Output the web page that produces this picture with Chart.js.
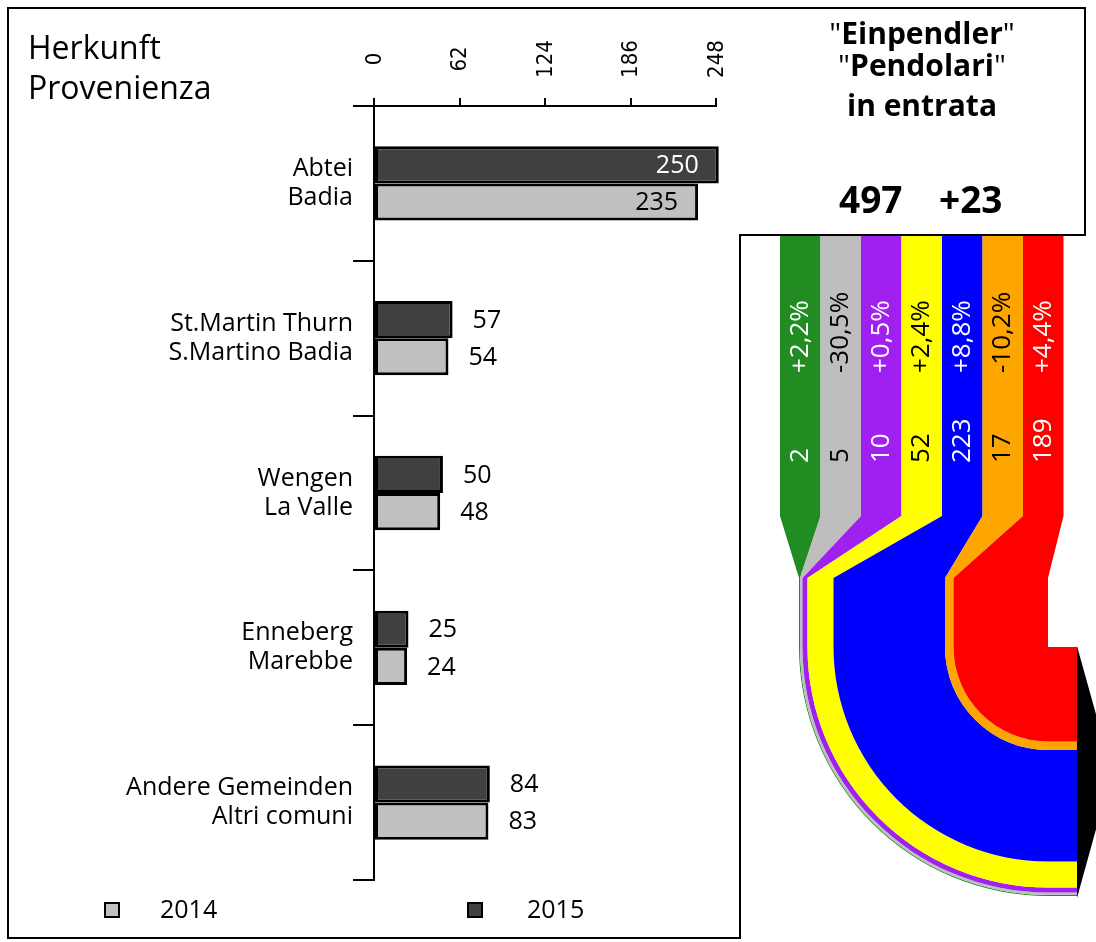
<!DOCTYPE html>
<html>
<head>
<meta charset="utf-8">
<script src="https://cdn.jsdelivr.net/npm/chart.js@4.4.1/dist/chart.umd.min.js"></script>
<style>
  html,body{margin:0;padding:0;background:#fff;}
  body{width:1096px;height:942px;position:relative;overflow:hidden;font-family:"Open Sans",sans-serif;color:#000;}
  canvas{position:absolute;}
  #main{left:0;top:0;}
  #flow{left:740px;top:235px;}
  .txt{position:absolute;white-space:nowrap;line-height:1;}
  .hdr{position:absolute;left:760px;width:324px;text-align:center;line-height:1;white-space:nowrap;font-size:30px;}
  .hdr b{font-weight:700;}
  .box{position:absolute;width:12px;height:12px;border:2px solid #000;}
</style>
</head>
<body>
<canvas id="main" width="1096" height="942"></canvas>
<canvas id="flow" width="356" height="707"></canvas>

<div class="txt" style="left:28px;top:31px;font-size:32px;">Herkunft</div>
<div class="txt" style="left:28px;top:71px;font-size:32px;">Provenienza</div>

<div class="hdr" style="top:18px;">"<b>Einpendler</b>"</div>
<div class="hdr" style="top:50px;">"<b>Pendolari</b>"</div>
<div class="hdr" style="top:90px;"><b>in entrata</b></div>
<div class="txt" id="total" style="left:839px;top:180px;font-size:37px;font-weight:700;"></div>
<div class="txt" id="totalChange" style="left:939px;top:180px;font-size:37px;font-weight:700;"></div>

<div class="box" style="left:104px;top:902px;background:#c0c0c0;"></div>
<div class="txt" id="leg0" style="left:160px;top:896px;font-size:25px;"></div>
<div class="box" style="left:467px;top:902px;background:#404040;"></div>
<div class="txt" id="leg1" style="left:527px;top:896px;font-size:25px;"></div>

<script>
// Herkunft der Einpendler / provenienza pendolari in entrata
const categories = [
  ["Abtei","Badia"],
  ["St.Martin Thurn","S.Martino Badia"],
  ["Wengen","La Valle"],
  ["Enneberg","Marebbe"],
  ["Andere Gemeinden","Altri comuni"]
];
const years = ["2014","2015"];
const values2015 = [250,57,50,25,84];
const values2014 = [235,54,48,24,83];
const axisTicks = [0,62,124,186,248];

// rechte Seite: Stroeme nach Sektor
const flowValues  = [2,5,10,52,223,17,189];
const flowChanges = ["+2,2%","-30,5%","+0,5%","+2,4%","+8,8%","-10,2%","+4,4%"];
const flowColors  = ["#228b22","#bebebe","#a020f0","#ffff00","#0000ff","#ffa500","#ff0000"];
const flowText    = ["#fff","#000","#fff","#000","#fff","#000","#fff"];
const totalValue  = 497;
const totalDiff   = "+23";

document.getElementById("total").textContent = totalValue;
document.getElementById("totalChange").textContent = totalDiff;
document.getElementById("leg0").textContent = years[0];
document.getElementById("leg1").textContent = years[1];

const LABEL_FONT = {family:"Open Sans", size:25, lineHeight:1.16};

// Rahmen um beide Teile
const framePlugin = {
  id:"frame",
  afterDraw(chart){
    const ctx = chart.ctx;
    ctx.save();
    ctx.strokeStyle = "#000";
    ctx.lineWidth = 2;
    ctx.beginPath();
    ctx.moveTo(8,8); ctx.lineTo(1085,8); ctx.lineTo(1085,235);
    ctx.lineTo(740,235); ctx.lineTo(740,938); ctx.lineTo(8,938);
    ctx.closePath();
    ctx.stroke();
    ctx.restore();
  }
};

// gedrehte Achsenbeschriftung oben
const tickLabelPlugin = {
  id:"tickLabels",
  afterDraw(chart){
    const xs = chart.scales.x, ctx = chart.ctx;
    ctx.save();
    ctx.font = '22px "DejaVu Sans Condensed", "DejaVu Sans"';
    ctx.fillStyle = "#000";
    ctx.textAlign = "center";
    ctx.textBaseline = "middle";
    xs.ticks.forEach((t,i)=>{
      ctx.save();
      ctx.translate(xs.getPixelForTick(i)+1, 59);
      ctx.rotate(-Math.PI/2);
      ctx.fillText(String(t.value),0,0);
      ctx.restore();
    });
    ctx.restore();
  }
};

// Werte an den Balken
const valuePlugin = {
  id:"values",
  afterDatasetsDraw(chart){
    const ctx = chart.ctx;
    ctx.save();
    ctx.font = '25px "Open Sans"';
    ctx.textBaseline = "middle";
    chart.data.datasets.forEach((ds,di)=>{
      chart.getDatasetMeta(di).data.forEach((bar,i)=>{
        const v = ds.data[i];
        if(v > 150){
          ctx.textAlign = "right";
          ctx.fillStyle = ds.labelColor;
          ctx.fillText(v, bar.x-20, bar.y+1);
        } else {
          ctx.textAlign = "left";
          ctx.fillStyle = "#000";
          ctx.fillText(v, bar.x+20, bar.y+1);
        }
      });
    });
    ctx.restore();
  }
};

new Chart(document.getElementById("main"),{
  type:"bar",
  data:{
    labels:categories,
    datasets:[
      {label:years[1], data:values2015, backgroundColor:"#404040", labelColor:"#fff",
       borderColor:"#000", borderWidth:3, borderSkipped:false, clip:false},
      {label:years[0], data:values2014, backgroundColor:"#c0c0c0", labelColor:"#000",
       borderColor:"#000", borderWidth:3, borderSkipped:false, clip:false}
    ]
  },
  options:{
    indexAxis:"y",
    responsive:false,
    animation:false,
    devicePixelRatio:1,
    layout:{padding:{top:0,left:0,right:380,bottom:62}},
    datasets:{bar:{categoryPercentage:0.48, barPercentage:1}},
    plugins:{legend:{display:false}, tooltip:{enabled:false}},
    scales:{
      x:{
        position:"top",
        min:0, max:248,
        afterBuildTicks:s=>{ s.ticks = axisTicks.map(v=>({value:v})); },
        afterFit:s=>{ s.height = 106; },
        ticks:{display:false},
        grid:{drawOnChartArea:false, drawTicks:true, tickLength:8, color:"#000", lineWidth:2},
        border:{display:true, color:"#000", width:2}
      },
      y:{
        afterFit:s=>{ s.width = 374; },
        ticks:{color:"#000", font:LABEL_FONT, padding:0, autoSkip:false},
        grid:{drawOnChartArea:false, drawTicks:true, tickLength:21, color:"#000", lineWidth:2, offset:true},
        border:{display:true, color:"#000", width:2}
      }
    }
  },
  plugins:[valuePlugin, tickLabelPlugin, framePlugin]
});

// Einheiten der Stromgrafik: 1 Einheit = 1 Pendler (x und y gleich skaliert)
const FLOW = {colStart:-38, colW:81, top:2, colBottom:562, merge:686, turn:824, end:556, tip:626,
              pctAt:276, valAt:456};

const flowPlugin = {
  id:"flowDraw",
  afterDraw(chart){
    const ctx = chart.ctx, xs = chart.scales.x, ys = chart.scales.y;
    const X = v=>xs.getPixelForValue(v), Y = v=>ys.getPixelForValue(v);
    const k = X(1)-X(0);
    const cum = [0];
    flowValues.forEach(v=>cum.push(cum[cum.length-1]+v));
    const tot = cum[cum.length-1];
    const cx = X(tot), cy = Y(FLOW.turn);

    ctx.save();
    flowValues.forEach((v,i)=>{
      const c0 = cum[i], c1 = cum[i+1];
      const a = FLOW.colStart + i*FLOW.colW, b = a + FLOW.colW;
      const rOut = (tot-c0)*k, rIn = (tot-c1)*k;
      ctx.beginPath();
      ctx.moveTo(X(a), Y(FLOW.top));
      ctx.lineTo(X(b), Y(FLOW.top));
      ctx.lineTo(X(b), Y(FLOW.colBottom));
      ctx.lineTo(X(c1), Y(FLOW.merge));
      ctx.lineTo(X(c1), cy);
      ctx.arc(cx, cy, rIn, Math.PI, Math.PI/2, true);
      ctx.lineTo(X(FLOW.end), Y(FLOW.turn + tot - c1));
      ctx.lineTo(X(FLOW.end), Y(FLOW.turn + tot - c0));
      ctx.lineTo(cx, Y(FLOW.turn + tot - c0));
      ctx.arc(cx, cy, rOut, Math.PI/2, Math.PI, false);
      ctx.lineTo(X(c0), Y(FLOW.merge));
      ctx.lineTo(X(a), Y(FLOW.colBottom));
      ctx.closePath();
      ctx.fillStyle = flowColors[i];
      ctx.fill();
    });

    // Pfeilspitze
    ctx.beginPath();
    ctx.moveTo(X(FLOW.end), Y(FLOW.turn-2));
    ctx.lineTo(X(FLOW.tip), Y(FLOW.turn + tot/2));
    ctx.lineTo(X(FLOW.end), Y(FLOW.turn + tot + 4));
    ctx.closePath();
    ctx.fillStyle = "#000";
    ctx.fill();

    // Beschriftung in den Saeulen
    ctx.font = '26px "Open Sans"';
    ctx.textAlign = "left";
    ctx.textBaseline = "middle";
    flowValues.forEach((v,i)=>{
      const mid = X(FLOW.colStart + (i+0.5)*FLOW.colW);
      ctx.fillStyle = flowText[i];
      [[flowChanges[i], FLOW.pctAt],[String(v), FLOW.valAt]].forEach(([s,at])=>{
        ctx.save();
        ctx.translate(mid, Y(at));
        ctx.rotate(-Math.PI/2);
        ctx.fillText(s,0,0);
        ctx.restore();
      });
    });
    ctx.restore();
  }
};

new Chart(document.getElementById("flow"),{
  type:"scatter",
  data:{datasets:[]},
  options:{
    responsive:false,
    animation:false,
    devicePixelRatio:1,
    layout:{padding:0},
    plugins:{legend:{display:false}, tooltip:{enabled:false}},
    scales:{
      x:{type:"linear", min:-118, max:594, display:false},
      y:{type:"linear", min:0, max:1414, reverse:true, display:false}
    }
  },
  plugins:[flowPlugin]
});
</script>
</body>
</html>
